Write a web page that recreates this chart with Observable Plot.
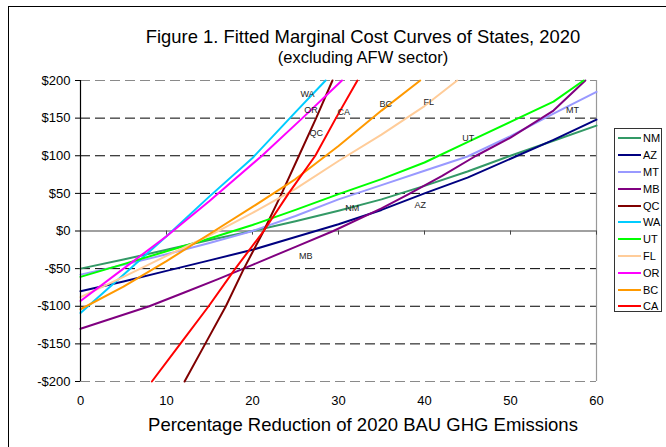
<!DOCTYPE html>
<html>
<head>
<meta charset="utf-8">
<script src="https://cdn.jsdelivr.net/npm/d3@7"></script>
<script src="https://cdn.jsdelivr.net/npm/@observablehq/plot@0.6"></script>
<style>
  body { margin: 0; background: #fff; font-family: "Liberation Sans", Arial, sans-serif; }
  #wrap { position: relative; width: 666px; height: 447px; overflow: hidden; background: #fff; }
  #frame { position: absolute; left: 8px; top: 6px; width: 800px; height: 600px; border-left: 1.5px solid #000; border-top: 1.5px solid #000; }
  .ttl { position: absolute; left: 60px; width: 606px; text-align: center; color: #000; white-space: nowrap; }
  #title { top: 26px; font-size: 18.4px; line-height: 21px; }
  #subtitle { top: 48px; font-size: 16.5px; line-height: 19px; }
  #xtitle { top: 414px; font-size: 18.5px; line-height: 21px; }
  #chart { position: absolute; left: 0; top: 66px; }
  #legend { position: absolute; left: 614px; top: 128px; width: 48px; height: 184px; border: 1px solid #333; box-sizing: border-box; background: #fff; padding-top: 1px; }
  .item { height: 16.8px; display: flex; align-items: center; font-size: 11px; line-height: 12px; }
  .swatch { width: 23px; height: 2px; margin-left: 3px; margin-right: 2px; }
</style>
</head>
<body>
<div id="wrap">
  <div id="frame"></div>
  <div id="title" class="ttl">Figure 1. Fitted Marginal Cost Curves of States, 2020</div>
  <div id="subtitle" class="ttl">(excluding AFW sector)</div>
  <div id="chart"></div>
  <div id="xtitle" class="ttl">Percentage Reduction of 2020 BAU GHG Emissions</div>
  <div id="legend"></div>
</div>
<script>
// Series names and colours (legend order)
const states = ["NM", "AZ", "MT", "MB", "QC", "WA", "UT", "FL", "OR", "BC", "CA"];
const colors = ["#339966", "#000080", "#9999FF", "#800080", "#800000", "#00CCFF", "#00FF00", "#FFCC99", "#FF00FF", "#FF9900", "#FF0000"];

// [percentage reduction, marginal cost $]
const NM = [[0,-50],[5,-38],[10,-25],[15,-12],[20,0],[25,13],[30,27],[35,42],[40,60],[45,79],[50,100],[55,120],[60,140]];
const AZ = [[0,-80],[5,-67],[10,-53],[15,-39],[20,-25],[25,-8],[30,9],[35,28],[40,50],[45,71],[50,96],[55,121],[60,148]];
const MT = [[0,-58],[5,-45],[10,-31],[15,-16],[20,0],[25,20],[30,42],[35,61],[40,80],[45,99],[50,126],[55,156],[60,185]];
const MB = [[0,-130],[4,-115],[8,-100],[12,-82],[16,-64],[20,-45],[25,-21],[29.4,0],[35,30],[38,48],[42,73],[46,100],[50,124],[55,160],[58.7,200]];
const QC = [[12.1,-200],[14.5,-150],[16.9,-100],[19,-50],[21.3,0],[23.4,50],[25.4,100],[27.4,150],[29.3,200]];
const WA = [[0,-109],[5,-58],[10,-7],[15,46],[20,97],[25,158],[28.5,200]];
const UT = [[0,-61],[5,-44],[10,-27],[15,-10],[20,8],[25,28],[30,49],[35,69],[40,91],[45,118],[50,145],[55,172],[58.5,200]];
const FL = [[0,-88],[5,-61],[10,-33],[15,-6],[20,24],[25,56],[30,93],[35,128],[40,166],[43.8,200]];
const OR = [[0,-93],[5,-50],[10,-7],[15,40],[21.1,100],[25.8,150],[30.4,200]];
const BC = [[0,-104],[5,-74],[10,-40],[15,-4],[20,32],[25,69],[30,113],[35,160],[39.5,200]];
const CA = [[8.3,-200],[11.6,-150],[14.9,-100],[18,-50],[21.3,0],[24.2,50],[27.3,100],[29.7,150],[32.2,200]];

// In-chart labels
const labelNames = ["WA", "OR", "QC", "CA", "BC", "FL", "UT", "MT", "NM", "AZ", "MB"];
const labelX =     [26.4, 26.8, 27.4, 30.6, 35.5, 40.5, 45.1, 57.2, 31.6, 39.5, 26.2];
const labelY =     [182,  160,  130,  158,  168,  171,  123,  160,  31,   35,   -34];

// Axis ticks
const xTicks = [0, 10, 20, 30, 40, 50, 60];
const yTicks = [-200, -150, -100, -50, 0, 50, 100, 150, 200];

const series = {NM, AZ, MT, MB, QC, WA, UT, FL, OR, BC, CA};
const rows = states.flatMap(s => series[s].map(([x, y]) => ({state: s, x, y})));
const labels = labelNames.map((t, i) => ({t, x: labelX[i], y: labelY[i]}));
const fmt = d => d < 0 ? `-$${-d}` : `$${d}`;
const tickLen = 5.5; // in $ units, small tick below the zero line

const chart = Plot.plot({
  width: 666,
  height: 381,
  marginTop: 14,
  marginBottom: 66,
  marginLeft: 80,
  marginRight: 70,
  style: {fontFamily: "'Liberation Sans', Arial, sans-serif", fontSize: "13px", background: "transparent", color: "#000", overflow: "visible"},
  x: {domain: [0, 60], ticks: xTicks, tickSize: 0, tickPadding: 14, label: null},
  y: {domain: [-200, 200], ticks: yTicks, tickSize: 5, tickPadding: 5, tickFormat: fmt, label: null},
  color: {domain: states, range: colors},
  marks: [
    Plot.ruleY(yTicks.filter(d => d !== 0 && Math.abs(d) !== 200), {y: d => d, stroke: "#000", strokeDasharray: "10,5", strokeWidth: 1}),
    Plot.ruleY(yTicks.filter(d => Math.abs(d) === 200), {y: d => d, stroke: "#8a8a8a", strokeDasharray: "10,5", strokeWidth: 1.2}),
    Plot.ruleX([60], {x: d => d, stroke: "#999", strokeWidth: 1.2}),
    Plot.ruleY([0], {y: d => d, stroke: "#808080", strokeWidth: 1.5}),
    Plot.ruleX(xTicks.filter(d => d > 0), {x: d => d, y1: 0, y2: -tickLen, stroke: "#444", strokeWidth: 1}),
    Plot.line(rows, {x: "x", y: "y", z: "state", stroke: "state", strokeWidth: 2}),
    Plot.text(labels, {x: "x", y: "y", text: "t", fontSize: 9, fill: "#222"}),
    Plot.ruleX([0], {x: d => d, stroke: "#000", strokeWidth: 1.2})
  ]
});
document.getElementById("chart").appendChild(chart);

const legend = document.getElementById("legend");
states.forEach((s, i) => {
  const it = document.createElement("div");
  it.className = "item";
  const sw = document.createElement("div");
  sw.className = "swatch";
  sw.style.background = colors[i];
  const tx = document.createElement("span");
  tx.textContent = s;
  it.appendChild(sw);
  it.appendChild(tx);
  legend.appendChild(it);
});
</script>
</body>
</html>
